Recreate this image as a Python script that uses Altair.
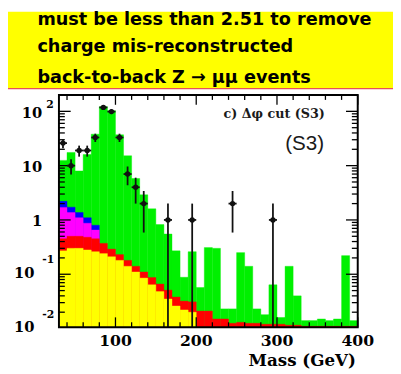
import altair as alt
import pandas as pd

# ---------------- data ----------------
bin_lo = list(range(30, 400, 10))  # 10 GeV bins, 30..400

green_top = [12.5, 17.5, 8, 16, 38, 122, 103, 37, 15.2, 5.8,
             2.9, 1.6, 0.82, 0.55, 0.27, 0.088, 0.26, 0.057, 0.31, 0.30,
             0.023, 0.023, 0.25, 0.14, 0.023, 0.018, 0.064, 0.016, 0.14, 0.04,
             0.014, 0.014, 0.015, 0.014, 0.015, 0.22, 0.014]
blue_top = [2.2, 1.72, 1.37, 1.1, 0.8]
magenta_top = [1.7, 1.37, 1.1, 0.87, 0.65]
red_top = [0.45, 0.5, 0.5, 0.48, 0.45, 0.37, 0.29, 0.23, 0.18, 0.14,
           0.11, 0.087, 0.066, 0.051, 0.038, 0.032, 0.031, 0.021, 0.021, 0.015,
           0.015, 0.0125, 0.013, 0.0125, 0.0125, 0.012, 0.012, 0.012, 0.0115, 0.0115,
           0.011, 0.011, 0.011, 0.011, 0.011, 0.011, 0.011]
yellow_top = [0.27, 0.3, 0.3, 0.28, 0.26, 0.24, 0.21, 0.18, 0.14, 0.11,
              0.085, 0.064, 0.048, 0.035, 0.026, 0.022, 0.02]

pt_mass = [35, 45, 55, 65, 75, 85, 95, 105, 115, 125, 135, 165, 195, 245, 295]
pt_count = [26, 10, 19, 19, 33, 118, 99, 33, 7, 4, 2, 1, 1, 2, 1]

x_major = [100, 200, 300, 400]
x_minor = [40, 60, 80, 120, 140, 160, 180, 220, 240, 260, 280, 320, 340, 360, 380]
y_major = [0.1, 1, 10, 100]
y_minor = [0.02, 0.03, 0.04, 0.05, 0.06, 0.07, 0.08, 0.09,
           0.2, 0.3, 0.4, 0.5, 0.6, 0.7, 0.8, 0.9,
           2, 3, 4, 5, 6, 7, 8, 9,
           20, 30, 40, 50, 60, 70, 80, 90, 200]
ylab_vals = [100, 10, 1, 0.1, 0.01]
ylab_base = ["10", "10", "1", "10", "10"]
ylab_exp = ["2", "", "", "-1", "-2"]

header_line1 = "must be less than 2.51 to remove"
header_line2 = "charge mis-reconstructed"
header_line3 = "back-to-back Z \u2192 \u03bc\u03bc  events"
panel_label = "c) \u0394\u03c6 cut (S3)"
tag_label = "(S3)"
x_title = "Mass (GeV)"

# ---------------- tables ----------------
rows = []
for name, arr in [("green", green_top), ("blue", blue_top), ("magenta", magenta_top),
                  ("red", red_top), ("yellow", yellow_top)]:
    for lo, v in zip(bin_lo, arr):
        rows.append({"s": name, "lo": lo, "hi": lo + 10, "v": v})
hist = pd.DataFrame(rows)
pts = pd.DataFrame({"m": pt_mass, "n": pt_count})
ylabs = pd.DataFrame({"v": ylab_vals, "b": ylab_base, "e": ylab_exp})
one = pd.DataFrame({"a": [0]})

W, H = 305, 237
YMIN, YMAX = 0.0106, 200
xs = alt.Scale(domain=[30, 400], nice=False, zero=False)
ys = alt.Scale(type="log", domain=[YMIN, YMAX], nice=False)

SERIF = "DejaVu Serif"

layers = []

# header box
layers.append(alt.Chart(one).mark_rect(color="#ffff00").encode(
    x=alt.value(-52), x2=alt.value(341), y=alt.value(-85), y2=alt.value(-7)))
layers.append(alt.Chart(one).mark_rule(color="#e8505a", strokeWidth=1.5).encode(
    x=alt.value(-52), x2=alt.value(341), y=alt.value(-6.5)))
hdr = dict(align="left", baseline="alphabetic", font="DejaVu Sans", fontWeight="bold",
           fontSize=18, color="black")
for txt, yy in [(header_line1, -71), (header_line2, -43.5), (header_line3, -12)]:
    layers.append(alt.Chart(one).mark_text(**hdr).encode(
        x=alt.value(-22), y=alt.value(yy), text=alt.value(txt)))

# stacked histograms (drawn back to front)
colors = {"green": "#00f000", "blue": "#0000ff", "magenta": "#ff00ff",
          "red": "#ff0000", "yellow": "#ffff00"}
for name in ["green", "blue", "magenta", "red", "yellow"]:
    layers.append(alt.Chart(hist).transform_filter(
        f"datum.s == '{name}' && datum.v > 0").mark_rect(
        color=colors[name], stroke=colors[name], strokeWidth=0.4).encode(
        x=alt.X("lo:Q", scale=xs, axis=None), x2="hi:Q",
        y=alt.Y("v:Q", scale=ys, axis=None), y2=alt.value(H)))

# ticks (inside the frame, ROOT style)
xmaj = pd.DataFrame({"t": x_major})
xmin_ = pd.DataFrame({"t": x_minor})
ymaj = pd.DataFrame({"t": y_major})
ymin_ = pd.DataFrame({"t": y_minor})
tk = dict(color="black", strokeWidth=1.3)
for df, ln in [(xmaj, 10), (xmin_, 5)]:
    layers.append(alt.Chart(df).mark_rule(**tk).encode(
        x=alt.X("t:Q", scale=xs, axis=None), y=alt.value(H), y2=alt.value(H - ln)))
    layers.append(alt.Chart(df).mark_rule(**tk).encode(
        x=alt.X("t:Q", scale=xs, axis=None), y=alt.value(0), y2=alt.value(ln)))
for df, ln in [(ymaj, 12), (ymin_, 6)]:
    layers.append(alt.Chart(df).mark_rule(**tk).encode(
        y=alt.Y("t:Q", scale=ys, axis=None), x=alt.value(0), x2=alt.value(ln)))
    layers.append(alt.Chart(df).mark_rule(**tk).encode(
        y=alt.Y("t:Q", scale=ys, axis=None), x=alt.value(W), x2=alt.value(W - ln)))

# data points with errors
pbase = alt.Chart(pts).transform_calculate(
    lo=f"max(datum.n - sqrt(datum.n), {YMIN})",
    hi="datum.n + sqrt(datum.n)",
    ml="datum.m - 5", mh="datum.m + 5")
layers.append(pbase.mark_rule(color="#111", strokeWidth=1.8).encode(
    x=alt.X("m:Q", scale=xs, axis=None),
    y=alt.Y("lo:Q", scale=ys, axis=None), y2="hi:Q"))
layers.append(pbase.mark_rule(color="#111", strokeWidth=1.8).encode(
    x=alt.X("ml:Q", scale=xs, axis=None), x2="mh:Q",
    y=alt.Y("n:Q", scale=ys, axis=None)))
layers.append(pbase.mark_point(filled=True, shape="circle", size=30, color="#111",
                               opacity=1).encode(
    x=alt.X("m:Q", scale=xs, axis=None), y=alt.Y("n:Q", scale=ys, axis=None)))

# frame
layers.append(alt.Chart(one).mark_rect(filled=False, stroke="black", strokeWidth=2).encode(
    x=alt.value(0), x2=alt.value(W), y=alt.value(0), y2=alt.value(H)))

# axis labels
lab = dict(font=SERIF, fontWeight="bold", color="black")
layers.append(alt.Chart(xmaj).mark_text(align="center", baseline="middle", fontSize=16, **lab).encode(
    x=alt.X("t:Q", scale=xs, axis=None), y=alt.value(H + 14), text="t:Q"))
layers.append(alt.Chart(one).mark_text(align="right", baseline="middle", fontSize=17, **lab).encode(
    x=alt.value(303), y=alt.value(H + 35), text=alt.value(x_title)))
layers.append(alt.Chart(ylabs).transform_filter("datum.v >= 1").mark_text(
    align="right", baseline="middle", fontSize=15, dy=1.5, **lab).encode(
    x=alt.value(-17), y=alt.Y("v:Q", scale=ys, axis=None), text="b:N"))
layers.append(alt.Chart(ylabs).transform_filter("datum.v >= 1 && datum.e != ''").mark_text(
    align="left", baseline="middle", fontSize=11, dy=-6, **lab).encode(
    x=alt.value(-13), y=alt.Y("v:Q", scale=ys, axis=None), text="e:N"))
layers.append(alt.Chart(ylabs).transform_filter("datum.v < 1").mark_text(
    align="right", baseline="middle", fontSize=15, dy=-1.5, **lab).encode(
    x=alt.value(-25), y=alt.Y("v:Q", scale=ys, axis=None), text="b:N"))
layers.append(alt.Chart(ylabs).transform_filter("datum.v < 1").mark_text(
    align="left", baseline="middle", fontSize=11, dy=-14, **lab).encode(
    x=alt.value(-17), y=alt.Y("v:Q", scale=ys, axis=None), text="e:N"))

# annotations
layers.append(alt.Chart(one).mark_text(align="left", baseline="middle", fontSize=13,
                                       font=SERIF, fontWeight="bold", color="#1a1a1a").encode(
    x=alt.value(168), y=alt.value(19), text=alt.value(panel_label)))
layers.append(alt.Chart(one).mark_text(align="left", baseline="middle", fontSize=21,
                                       font="Liberation Sans", color="#1a1a1a").encode(
    x=alt.value(231), y=alt.value(50), text=alt.value(tag_label)))

chart = alt.layer(*layers).properties(
    width=W, height=H,
    padding={"left": 52, "top": 85, "right": 36, "bottom": 44},
    autosize=alt.AutoSizeParams(type="none"),
).configure_view(stroke=None)

chart.save("out.html", embed_options={"renderer": "svg", "actions": False})
